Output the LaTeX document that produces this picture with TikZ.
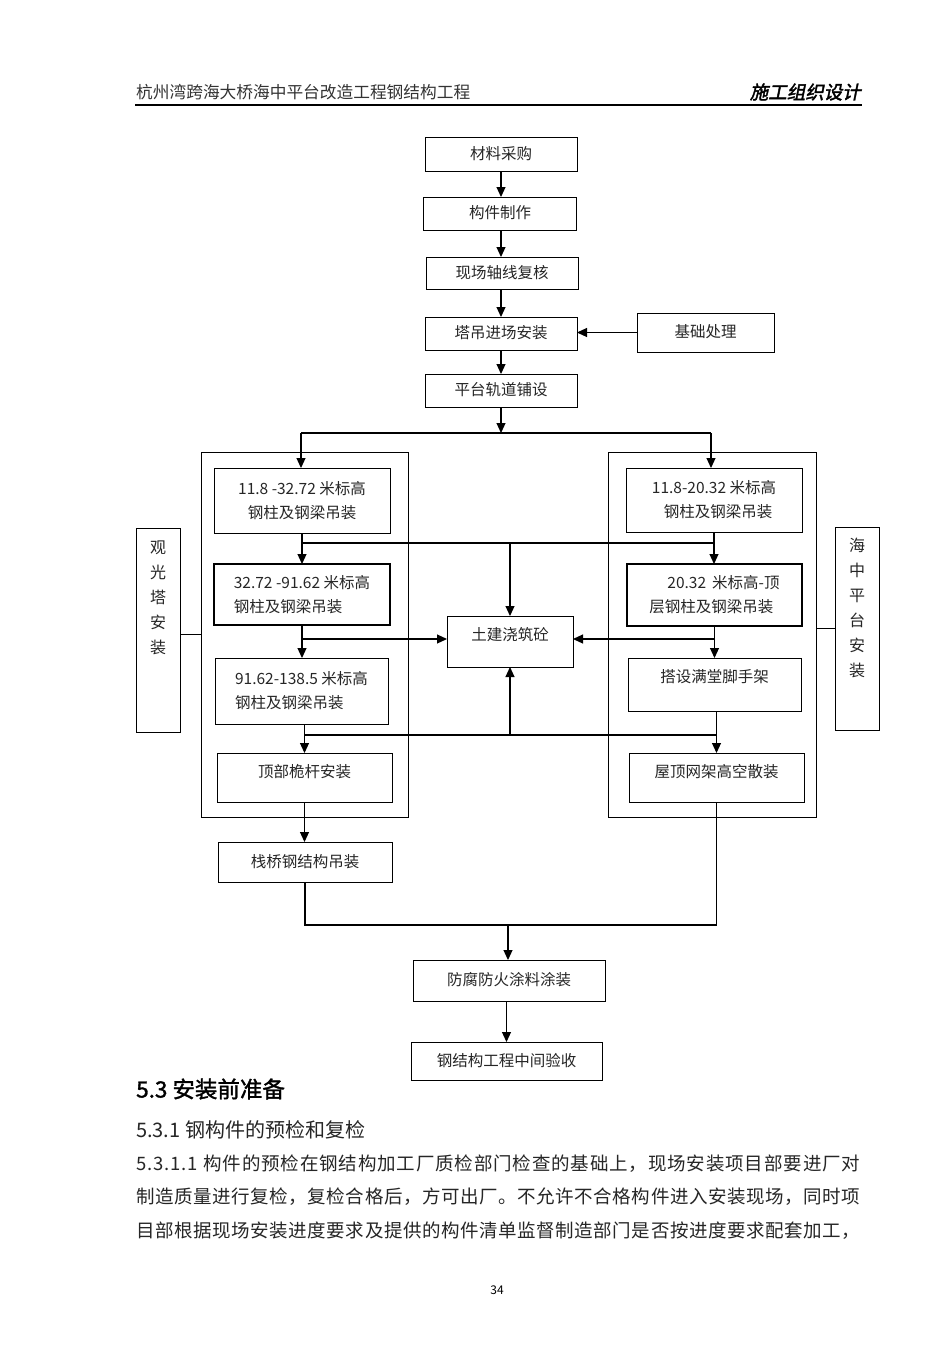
\documentclass[tikz,border=0pt]{standalone}
\usepackage{fontspec}
\setmainfont{Noto Sans CJK SC}
\newfontfamily\cjkbi{Noto Sans CJK SC}[FakeSlant=0.2,FakeBold=2]
\newfontfamily\cjkb{Noto Sans CJK SC}[FakeBold=1.5]
\usetikzlibrary{arrows.meta}
\def\myspreadend{}
\def\myspread#1#2{\hbox to #1{\myspreadaux#2\myspreadend}}
\def\myspreadaux#1{\ifx#1\myspreadend\unskip\else#1\hfil\expandafter\myspreadaux\fi}
\begin{document}
\begin{tikzpicture}[x=1pt,y=-1pt,
  box/.style={draw,line width=1pt,inner sep=0pt,outer sep=0pt,align=center,
    font=\fontsize{15.5}{24}\selectfont,text=black!85},
  lift/.style={text height=13pt,text depth=#1},
  lift/.default=3pt,
  grp/.style={draw,line width=1pt,inner sep=0pt,outer sep=0pt},
  vtxt/.style={align=center,inner sep=0pt,font=\fontsize{16}{25}\selectfont,text=black!85},
  ln/.style={line width=1.1pt},
  arr/.style={line width=1.1pt,-{Triangle[width=9pt,length=10pt]}},
  para/.style={anchor=west,inner sep=0pt,font=\fontsize{18.5}{20}\selectfont,text=black!85}
]
\useasboundingbox[fill=white] (0,0) rectangle (950,1345);

% header
\node[anchor=west,inner sep=0pt,font=\fontsize{16.7}{20}\selectfont,text=black!80] (hl) at (136,92) {杭州湾跨海大桥海中平台改造工程钢结构工程};
\node[anchor=east,inner sep=0pt,font=\cjkbi\fontsize{18.5}{20}\selectfont] (hr) at (861,92) {施工组织设计};
\draw[line width=1.4pt] (135,105) -- (862,105);

% top chain
\node[box,lift,minimum width=152pt,minimum height=34pt] (a1) at (501,154) {材料采购};
\node[box,lift,minimum width=153pt,minimum height=33pt] (a2) at (500,213.5) {构件制作};
\node[box,lift,minimum width=152pt,minimum height=32pt] (a3) at (502,273) {现场轴线复核};
\node[box,lift,minimum width=152pt,minimum height=33pt] (a4) at (501,333.5) {塔吊进场安装};
\node[box,lift,minimum width=137pt,minimum height=39pt] (jc) at (705.5,332.5) {基础处理};
\node[box,lift,minimum width=152pt,minimum height=33pt] (a5) at (501,390.5) {平台轨道铺设};

% group boxes
\node[grp,minimum width=207pt,minimum height=365pt] (gl) at (304.5,634.5) {};
\node[grp,minimum width=208pt,minimum height=365pt] (gr) at (712,634.5) {};

% left column
\node[box,minimum width=176pt,minimum height=65pt] (l1) at (302,500.5) {11.8 -32.72 米标高\\钢柱及钢梁吊装};
\node[box,align=left,minimum width=176pt,minimum height=61pt,line width=1.3pt] (l2) at (302,594.5) {32.72 -91.62 米标高\\钢柱及钢梁吊装};
\node[box,align=left,minimum width=173pt,minimum height=66pt] (l3) at (301.5,691) {91.62-138.5 米标高\\钢柱及钢梁吊装};
\node[box,lift=14pt,minimum width=175pt,minimum height=49pt] (l4) at (304.5,777.5) {顶部桅杆安装};

% middle
\node[box,lift=16pt,minimum width=126pt,minimum height=51pt] (m) at (510,641.5) {土建浇筑砼};

% right column
\node[box,minimum width=176pt,minimum height=64pt] (r1) at (714,500) {11.8-20.32 米标高\\\hspace{8pt}钢柱及钢梁吊装};
\node[box,align=left,minimum width=175pt,minimum height=62pt,line width=1.5pt] (r2) at (714.5,595) {\hspace{18pt}20.32\, 米标高-顶\\层钢柱及钢梁吊装};
\node[box,lift=18pt,minimum width=173pt,minimum height=53pt] (r3) at (714.5,684.5) {搭设满堂脚手架};
\node[box,lift=14pt,minimum width=175pt,minimum height=49pt] (r4) at (716.5,777.5) {屋顶网架高空散装};

% side boxes
\node[box,minimum width=44pt,minimum height=204pt] (sl) at (158,630) {};
\node[vtxt] (slt) at (158,598) {观\\光\\塔\\安\\装};
\node[box,minimum width=44pt,minimum height=203pt] (sr) at (857,628.5) {};
\node[vtxt] (srt) at (857,607.5) {海\\中\\平\\台\\安\\装};

% bottom
\node[box,lift,minimum width=174pt,minimum height=40pt] (z) at (305,862) {栈桥钢结构吊装};
\node[box,lift,minimum width=192pt,minimum height=41pt] (f) at (509,980.5) {防腐防火涂料涂装};
\node[box,lift,minimum width=191pt,minimum height=38pt] (yan) at (506.5,1061) {钢结构工程中间验收};

% connectors top
\draw[arr] (a1.south) -- (a1.south |- a2.north);
\draw[arr] (a1.south |- a2.south) -- (a1.south |- a3.north);
\draw[arr] (a1.south |- a3.south) -- (a1.south |- a4.north);
\draw[arr] (a4.south) -- (a4.south |- a5.north);
\draw[arr] (jc.west) -- (jc.west -| a4.east);
\coordinate (jm) at (501,433);
\coordinate (jl) at (301,433);
\coordinate (jr) at (711,433);
\draw[arr] (a5.south) -- (jm);
\draw[ln] (jl) -- (jr);
\draw[arr] (jl) -- (jl |- l1.north);
\draw[arr] (jr) -- (jr |- r1.north);

% left chain
\draw[arr] (l1.south) -- (l1.south |- l2.north);
\draw[arr] (l2.south) -- (l2.south |- l3.north);
\draw[arr] (l4.north |- l3.south) -- (l4.north);
\draw[arr] (l4.south) -- (l4.south |- z.north);

% right chain
\draw[arr] (r1.south) -- (r1.south |- r2.north);
\draw[arr] (r2.south) -- (r2.south |- r3.north);
\draw[arr] (r4.north |- r3.south) -- (r4.north);

% cross links to middle
\coordinate (h1a) at (302,543);
\coordinate (h1b) at (715,543);
\coordinate (h1m) at (510,543);
\draw[ln] (h1a) -- (h1b);
\draw[arr] (h1m) -- (h1m |- m.north);
\coordinate (h2a) at (302,639);
\coordinate (h2b) at (715,639);
\draw[arr] (h2a) -- (h2a -| m.west);
\draw[arr] (h2b) -- (h2b -| m.east);
\coordinate (h3a) at (305,735);
\coordinate (h3b) at (717,735);
\coordinate (h3m) at (510,735);
\draw[ln] (h3a) -- (h3b);
\draw[arr] (h3m) -- (h3m |- m.south);

% side links
\draw[ln] (sl.east |- gl.west) -- (gl.west);
\draw[ln] (gr.east |- sr.west) -- (sr.west);

% bottom merge
\coordinate (bot) at (508,925);
\draw[ln] (z.south) |- (bot) -| (r4.south);
\draw[arr] (bot) -- (bot |- f.north);
\draw[arr] (yan.north |- f.south) -- (yan.north);

% text below
\node[anchor=west,inner sep=0pt,font=\cjkb\fontsize{22.5}{24}\selectfont] (h53) at (136,1089) {5.3 安装前准备};
\node[para,font=\fontsize{20}{22}\selectfont] (h531) at (136,1130) {5.3.1 钢构件的预检和复检};
\node[para] (p1) at (136,1164) {\myspread{724pt}{5.3.1.1~构件的预检在钢结构加工厂质检部门检查的基础上，现场安装项目部要进厂对}};
\node[para] (p2) at (136,1197) {\myspread{724pt}{制造质量进行复检，复检合格后，方可出厂。不允许不合格构件进入安装现场，同时项}};
\node[para] (p3) at (136,1231) {\myspread{724pt}{目部根据现场安装进度要求及提供的构件清单监督制造部门是否按进度要求配套加工，}};
\node[inner sep=0pt,font=\fontsize{12}{14}\selectfont] (pg) at (497,1290) {34};
\end{tikzpicture}
\end{document}
